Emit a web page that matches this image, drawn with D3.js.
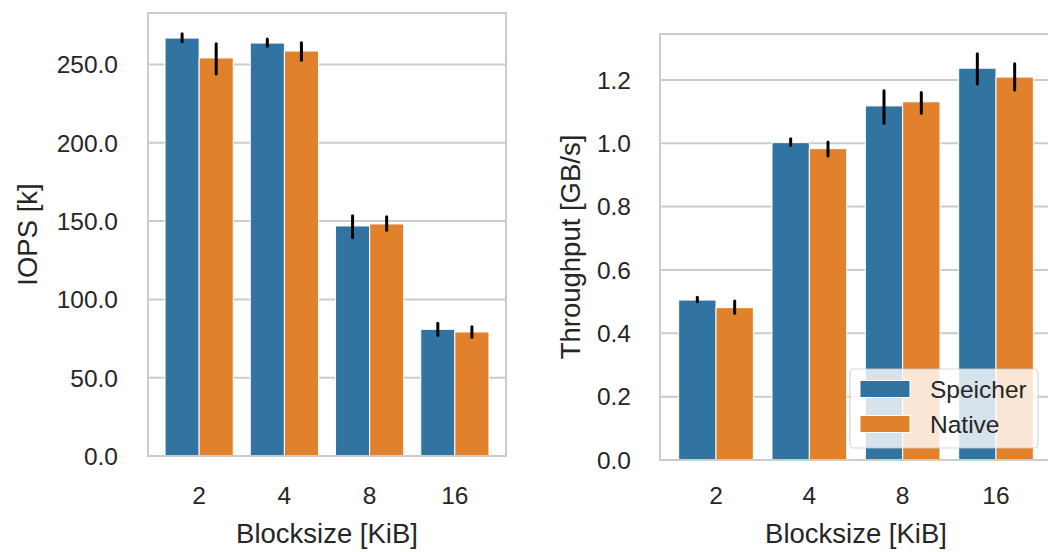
<!DOCTYPE html>
<html>
<head>
<meta charset="utf-8">
<script src="https://cdn.jsdelivr.net/npm/d3@7"></script>
<style>
  html, body { margin: 0; padding: 0; background: #fff; }
  svg { display: block; font-family: "Liberation Sans", Arial, sans-serif; }
</style>
</head>
<body>
<svg id="chart" width="1048" height="552"></svg>
<script>
const categories = ["2", "4", "8", "16"];
const seriesNames = ["Speicher", "Native"];

const iopsSpeicher   = [266.9, 263.7, 146.9, 80.9];
const iopsNative     = [254.2, 258.6, 148.2, 79.2];
const iopsSpeicherLo = [264.6, 261.6, 139.4, 77.1];
const iopsSpeicherHi = [269.7, 266.3, 153.4, 84.7];
const iopsNativeLo   = [243.9, 252.7, 144.1, 75.8];
const iopsNativeHi   = [263.3, 263.9, 152.8, 82.6];

const tpSpeicher   = [0.505, 1.002, 1.118, 1.237];
const tpNative     = [0.481, 0.983, 1.131, 1.209];
const tpSpeicherLo = [0.500, 0.994, 1.063, 1.187];
const tpSpeicherHi = [0.514, 1.014, 1.166, 1.283];
const tpNativeLo   = [0.463, 0.960, 1.095, 1.168];
const tpNativeHi   = [0.502, 1.004, 1.160, 1.251];

const iopsTicks = [0, 50, 100, 150, 200, 250];
const tpTicks = [0, 0.2, 0.4, 0.6, 0.8, 1.0, 1.2];

const colors = ["#3274a1", "#e1812c"];
const gridColor = "#cccccc";
const textColor = "#262626";
const tickSize = 24.5;
const labelSize = 27.5;

const svg = d3.select("#chart");

function panel(opts) {
  const { left, right, top, bottom, yMax, ticks, fmt, values, lo, hi, yLabel, yLabelX, tickRight } = opts;
  const g = svg.append("g");
  const width = right - left;
  const pad = width * 0.1 / 4.2;
  const x = d3.scaleBand().domain(categories).range([left + pad, right - pad]).paddingInner(0).paddingOuter(0);
  const xs = d3.scaleBand().domain(seriesNames).range([0.1 * x.bandwidth(), 0.9 * x.bandwidth()]);
  const y = d3.scaleLinear().domain([0, yMax]).range([bottom, top]);

  // grid
  g.selectAll("line.grid").data(ticks).enter().append("line")
    .attr("x1", left).attr("x2", right)
    .attr("y1", d => y(d)).attr("y2", d => y(d))
    .attr("stroke", gridColor).attr("stroke-width", 2);

  // bars
  seriesNames.forEach((s, si) => {
    g.selectAll("rect.bar" + si).data(categories).enter().append("rect")
      .attr("x", c => x(c) + xs(s))
      .attr("width", xs.bandwidth())
      .attr("y", (c, i) => y(values[si][i]))
      .attr("height", (c, i) => y(0) - y(values[si][i]))
      .attr("fill", colors[si])
      .attr("stroke", "#ffffff").attr("stroke-width", 1);
  });
  // error bars
  seriesNames.forEach((s, si) => {
    g.selectAll("line.err" + si).data(categories).enter().append("line")
      .attr("x1", c => x(c) + xs(s) + xs.bandwidth() / 2)
      .attr("x2", c => x(c) + xs(s) + xs.bandwidth() / 2)
      .attr("y1", (c, i) => y(lo[si][i]))
      .attr("y2", (c, i) => y(hi[si][i]))
      .attr("stroke", "#000").attr("stroke-width", 3).attr("stroke-linecap", "round");
  });

  // frame
  g.append("rect").attr("x", left).attr("y", top).attr("width", width).attr("height", bottom - top)
    .attr("fill", "none").attr("stroke", gridColor).attr("stroke-width", 2);

  // y tick labels
  g.selectAll("text.yt").data(ticks).enter().append("text")
    .attr("x", tickRight).attr("y", d => y(d)).attr("dy", "0.36em")
    .attr("text-anchor", "end").attr("font-size", tickSize).attr("fill", textColor)
    .text(d => d3.format(".1f")(d));

  // x tick labels
  g.selectAll("text.xt").data(categories).enter().append("text")
    .attr("x", c => x(c) + x.bandwidth() / 2).attr("y", 504)
    .attr("text-anchor", "middle").attr("font-size", tickSize).attr("fill", textColor)
    .text(c => c);

  // x label
  g.append("text").attr("x", (left + right) / 2).attr("y", 543)
    .attr("text-anchor", "middle").attr("font-size", labelSize).attr("fill", textColor)
    .text("Blocksize [KiB]");
  // y label
  g.append("text")
    .attr("transform", `translate(${yLabelX},${(top + bottom) / 2}) rotate(-90)`)
    .attr("text-anchor", "middle").attr("font-size", labelSize).attr("fill", textColor)
    .text(yLabel);
  return g;
}

panel({
  left: 148, right: 506, top: 13, bottom: 456, yMax: 282.9,
  ticks: iopsTicks, values: [iopsSpeicher, iopsNative],
  lo: [iopsSpeicherLo, iopsNativeLo], hi: [iopsSpeicherHi, iopsNativeHi],
  yLabel: "IOPS [k]", yLabelX: 37, tickRight: 118
});

panel({
  left: 660, right: 1052, top: 34, bottom: 460, yMax: 1.345,
  ticks: tpTicks, values: [tpSpeicher, tpNative],
  lo: [tpSpeicherLo, tpNativeLo], hi: [tpSpeicherHi, tpNativeHi],
  yLabel: "Throughput [GB/s]", yLabelX: 580, tickRight: 631
});

// legend
const lg = svg.append("g");
lg.append("rect").attr("x", 850).attr("y", 369).attr("width", 188).attr("height", 79)
  .attr("rx", 4).attr("ry", 4)
  .attr("fill", "#ffffff").attr("fill-opacity", 0.8)
  .attr("stroke", gridColor).attr("stroke-opacity", 0.8).attr("stroke-width", 1.2);
const legendY = d3.scalePoint().domain(seriesNames).range([389, 424]);
seriesNames.forEach((s, i) => {
  lg.append("rect").attr("x", 860).attr("y", legendY(s) - 8.5).attr("width", 50).attr("height", 17)
    .attr("fill", colors[i]).attr("stroke", "#ffffff").attr("stroke-width", 1);
  lg.append("text").attr("x", 930).attr("y", legendY(s) + 8.8)
    .attr("font-size", tickSize).attr("fill", textColor).text(s);
});
</script>
</body>
</html>
